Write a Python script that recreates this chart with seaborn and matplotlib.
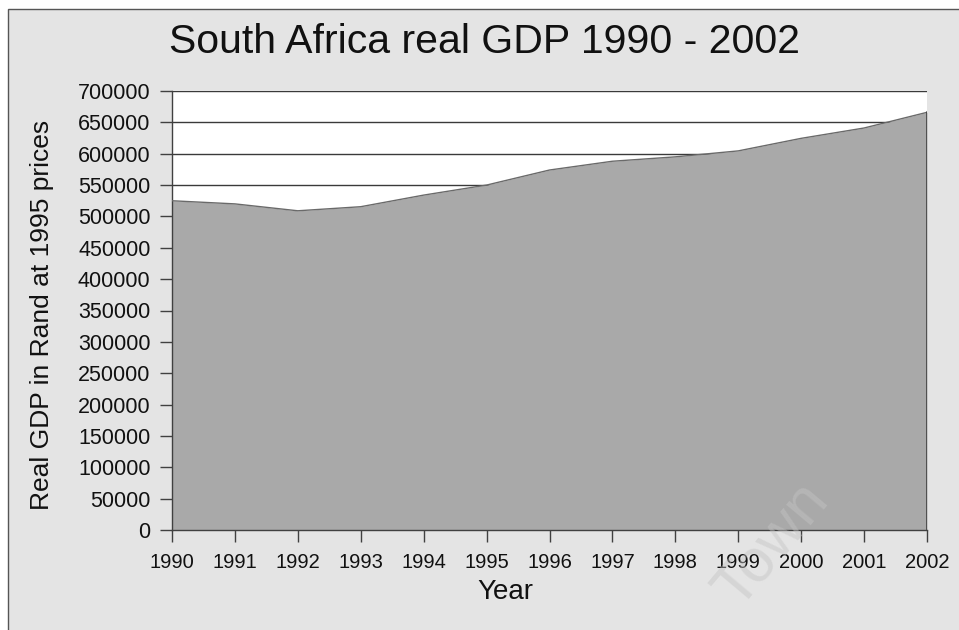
import matplotlib
matplotlib.use("Agg")
import matplotlib.pyplot as plt
import matplotlib.patches as mpatches
import seaborn as sns
import pandas as pd

years = [1990, 1991, 1992, 1993, 1994, 1995, 1996, 1997, 1998, 1999, 2000, 2001, 2002]
gdp = [525000, 520000, 509000, 515500, 534000, 550000, 574000, 588000, 595000, 604500, 624500, 641000, 666000]
y_ticks = list(range(0, 700001, 50000))

df = pd.DataFrame({"Year": years, "GDP": gdp})

sns.set_theme(style="white")
plt.rcParams["font.family"] = ["Liberation Sans", "DejaVu Sans"]

fig = plt.figure(figsize=(9.59, 6.30), dpi=100)
fig.patch.set_facecolor("white")
# gray panel with thin border
panel = mpatches.Rectangle((8 / 959, -0.01), 1.0, 1 - 9 / 630 + 0.01, transform=fig.transFigure,
                           facecolor="#e4e4e4", edgecolor="#555555", linewidth=1.0, zorder=-10)
fig.patches.append(panel)

ax = fig.add_axes([172 / 959, 1 - 530 / 630, (927 - 172) / 959, (530 - 91) / 630])
ax.set_zorder(1)
ax.set_facecolor("white")

for yv in y_ticks[1:]:
    ax.axhline(yv, color="#3a3a3a", linewidth=1.0, zorder=1)

ax.fill_between(df["Year"], df["GDP"], 0, color="#a9a9a9", linewidth=0, zorder=2)
sns.lineplot(data=df, x="Year", y="GDP", ax=ax, color="#6a6a6a", linewidth=1.0, zorder=3)
ax.plot([years[-1], years[-1]], [0, gdp[-1]], color="#404040", linewidth=1.2, zorder=3)

ax.set_xlim(years[0], years[-1])
ax.set_ylim(0, 700000)
ax.set_xticks(years)
ax.set_xticklabels([str(y) for y in years])
ax.set_yticks(y_ticks)
ax.set_yticklabels([str(v) for v in y_ticks])

for s in ["top", "right"]:
    ax.spines[s].set_visible(False)
for s in ["left", "bottom"]:
    ax.spines[s].set_visible(True)
    ax.spines[s].set_color("#404040")
    ax.spines[s].set_linewidth(1.0)

ax.tick_params(axis="both", which="major", direction="out", length=8.5, width=1.0,
               color="#404040", labelcolor="#111111",
               left=True, bottom=True)
ax.tick_params(axis="x", pad=8, labelsize=14.5)
ax.tick_params(axis="y", pad=7, labelsize=15.5)

ax.set_xlabel("")
ax.set_ylabel("")
fig.text(505 / 959, 1 - 592 / 630, "Year", ha="center", va="center",
         fontsize=20, color="#111111")
fig.text(42 / 959, 1 - 315 / 630, "Real GDP in Rand at 1995 prices", ha="center", va="center",
         rotation=90, fontsize=19, color="#111111")

fig.text(484 / 959, 1 - 42 / 630, "South Africa real GDP 1990 - 2002", ha="center", va="center",
         fontsize=29.5, color="#111111")

fig.text(772 / 959, 1 - 545 / 630, "Town", ha="center", va="center", rotation=50,
         fontsize=44, color="#c4c4c4", alpha=0.45, zorder=5)

fig.savefig("out.png", dpi=100, facecolor=fig.get_facecolor())
